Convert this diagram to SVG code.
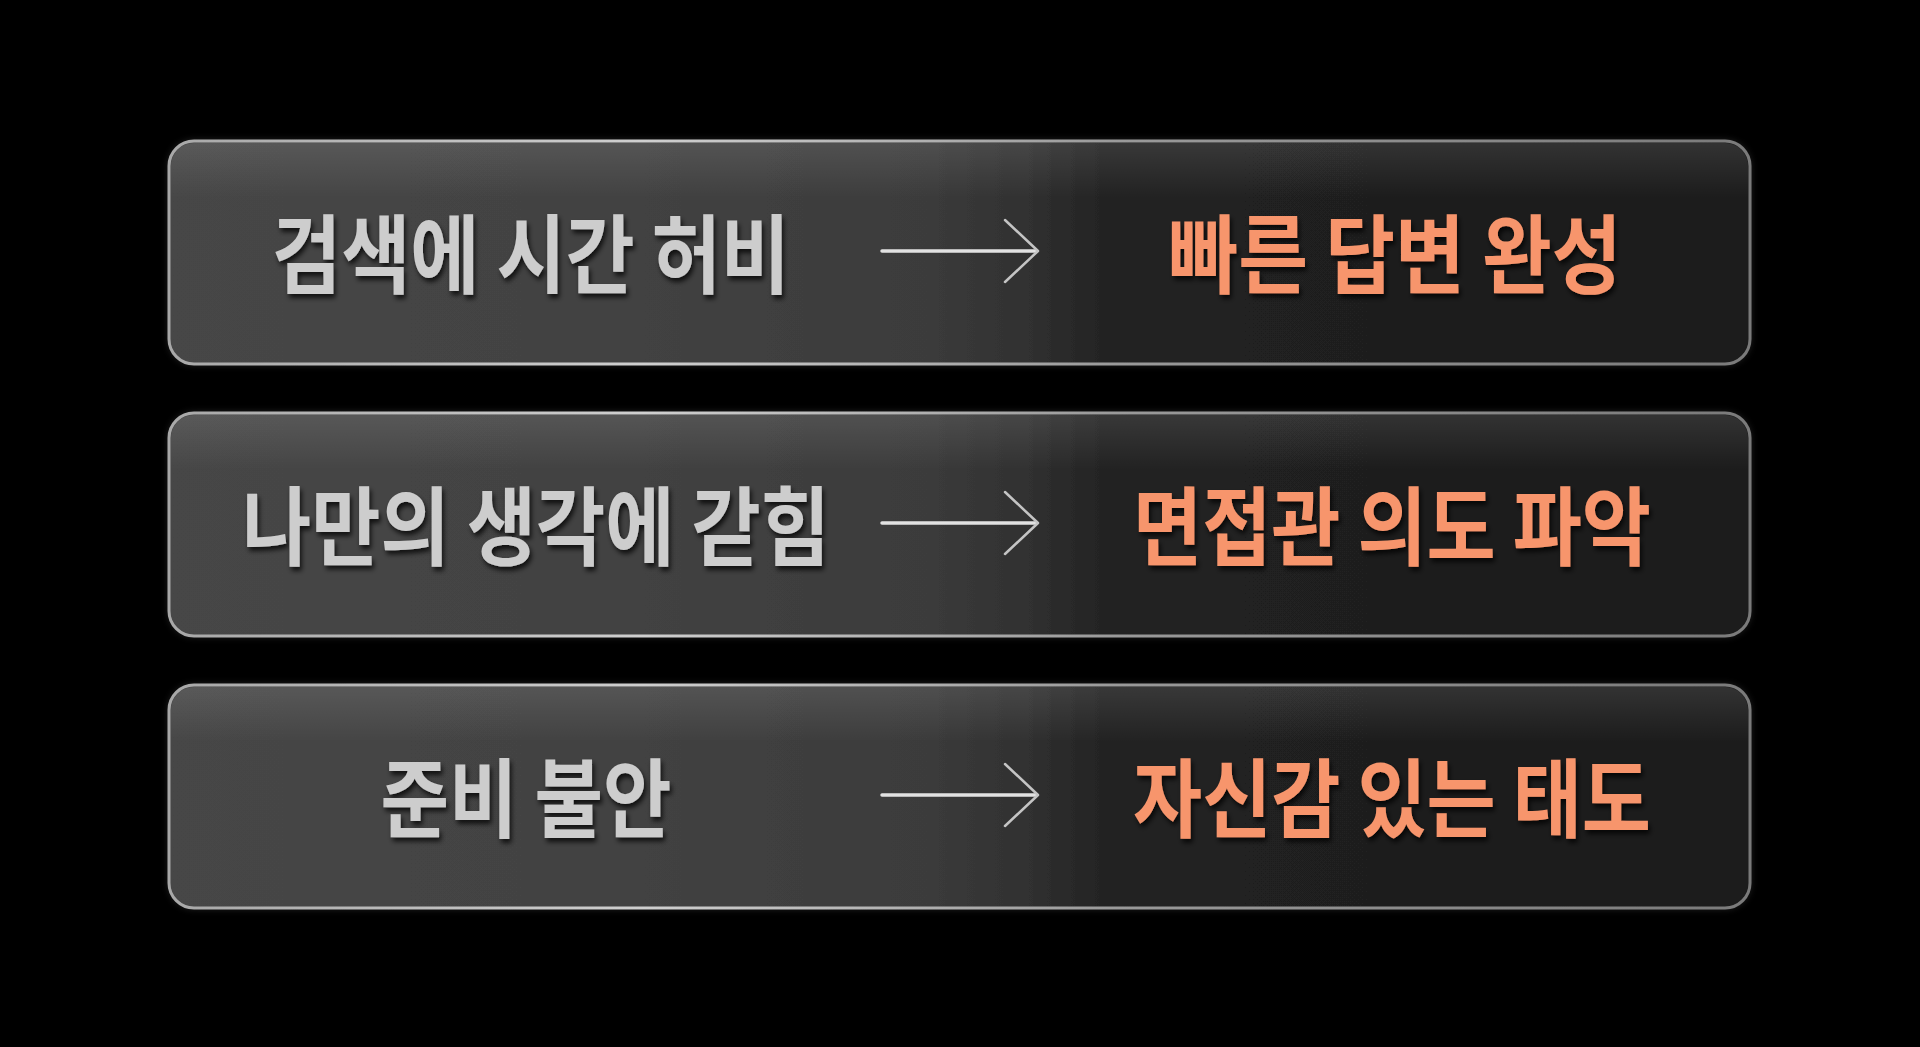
<svg xmlns="http://www.w3.org/2000/svg" width="1920" height="1047" viewBox="0 0 1920 1047">
  <defs>
    <linearGradient id="boxFill" x1="0" y1="0" x2="1" y2="0">
      <stop offset="0" stop-color="#464646"/>
      <stop offset="0.3" stop-color="#424242"/>
      <stop offset="0.48" stop-color="#3b3b3b"/>
      <stop offset="0.54" stop-color="#313131"/>
      <stop offset="0.6" stop-color="#212121"/>
      <stop offset="1" stop-color="#1c1c1c"/>
    </linearGradient>
    <linearGradient id="sheen" x1="0" y1="0" x2="0" y2="1">
      <stop offset="0" stop-color="#ffffff" stop-opacity="0.10"/>
      <stop offset="0.25" stop-color="#ffffff" stop-opacity="0.0"/>
      <stop offset="1" stop-color="#ffffff" stop-opacity="0"/>
    </linearGradient>
    <linearGradient id="border" x1="0" y1="0" x2="1" y2="0">
      <stop offset="0" stop-color="#a8a8a8"/>
      <stop offset="0.3" stop-color="#cfcfcf"/>
      <stop offset="0.6" stop-color="#9a9a9a"/>
      <stop offset="1" stop-color="#7a7a7a"/>
    </linearGradient>
    <filter id="shadow" x="-10%" y="-30%" width="120%" height="160%">
      <feDropShadow dx="2" dy="4" stdDeviation="2.5" flood-color="#000000" flood-opacity="0.75"/>
    </filter>
    <filter id="boxGlow" x="-5%" y="-20%" width="110%" height="140%">
      <feDropShadow dx="0" dy="0" stdDeviation="3" flood-color="#ffffff" flood-opacity="0.12"/>
    </filter>
  </defs>
  <style>
    .box { fill: url(#boxFill); stroke: url(#border); stroke-width: 3; }
    .sheen { fill: url(#sheen); }
    .lt { font-family: "Noto Sans CJK KR", "Noto Sans", sans-serif; font-weight: 700; font-size: 86px; fill: #cdcdcd; text-anchor: middle; filter: url(#shadow); }
    .rt { font-family: "Noto Sans CJK KR", "Noto Sans", sans-serif; font-weight: 700; font-size: 86px; fill: #f7956c; text-anchor: middle; filter: url(#shadow); }
    .shaft { stroke: #e2e2e2; stroke-width: 3.5; fill: none; stroke-linecap: round; }
    .head { stroke: #c4c4c4; stroke-width: 2.5; fill: none; stroke-linecap: round; stroke-linejoin: round; }
  </style>
  <rect x="0" y="0" width="1920" height="1047" fill="#000000"/>

  <g id="row1">
    <rect class="box" x="169" y="141" width="1581" height="223" rx="25" ry="25" filter="url(#boxGlow)"/>
    <rect class="sheen" x="171" y="143" width="1577" height="219" rx="23" ry="23"/>
    <text class="lt" x="531" y="287" textLength="518" lengthAdjust="spacingAndGlyphs">검색에 시간 허비</text>
    <text class="rt" x="1395" y="287" textLength="453" lengthAdjust="spacingAndGlyphs">빠른 답변 완성</text>
  </g>
  <g id="row2">
    <rect class="box" x="169" y="413" width="1581" height="223" rx="25" ry="25" filter="url(#boxGlow)"/>
    <rect class="sheen" x="171" y="415" width="1577" height="219" rx="23" ry="23"/>
    <text class="lt" x="536" y="559" textLength="588" lengthAdjust="spacingAndGlyphs">나만의 생각에 갇힘</text>
    <text class="rt" x="1392" y="559" textLength="518" lengthAdjust="spacingAndGlyphs">면접관 의도 파악</text>
  </g>
  <g id="row3">
    <rect class="box" x="169" y="685" width="1581" height="223" rx="25" ry="25" filter="url(#boxGlow)"/>
    <rect class="sheen" x="171" y="687" width="1577" height="219" rx="23" ry="23"/>
    <text class="lt" x="526" y="831" textLength="291" lengthAdjust="spacingAndGlyphs">준비 불안</text>
    <text class="rt" x="1392" y="831" textLength="518" lengthAdjust="spacingAndGlyphs">자신감 있는 태도</text>
  </g>

  <g id="connectors">
    <path class="shaft" d="M882 251 H1036"/>
    <polyline class="head" points="1005,220 1038,251 1005,282"/>
    <path class="shaft" d="M882 523 H1036"/>
    <polyline class="head" points="1005,492 1038,523 1005,554"/>
    <path class="shaft" d="M882 795 H1036"/>
    <polyline class="head" points="1005,764 1038,795 1005,826"/>
  </g>
</svg>
